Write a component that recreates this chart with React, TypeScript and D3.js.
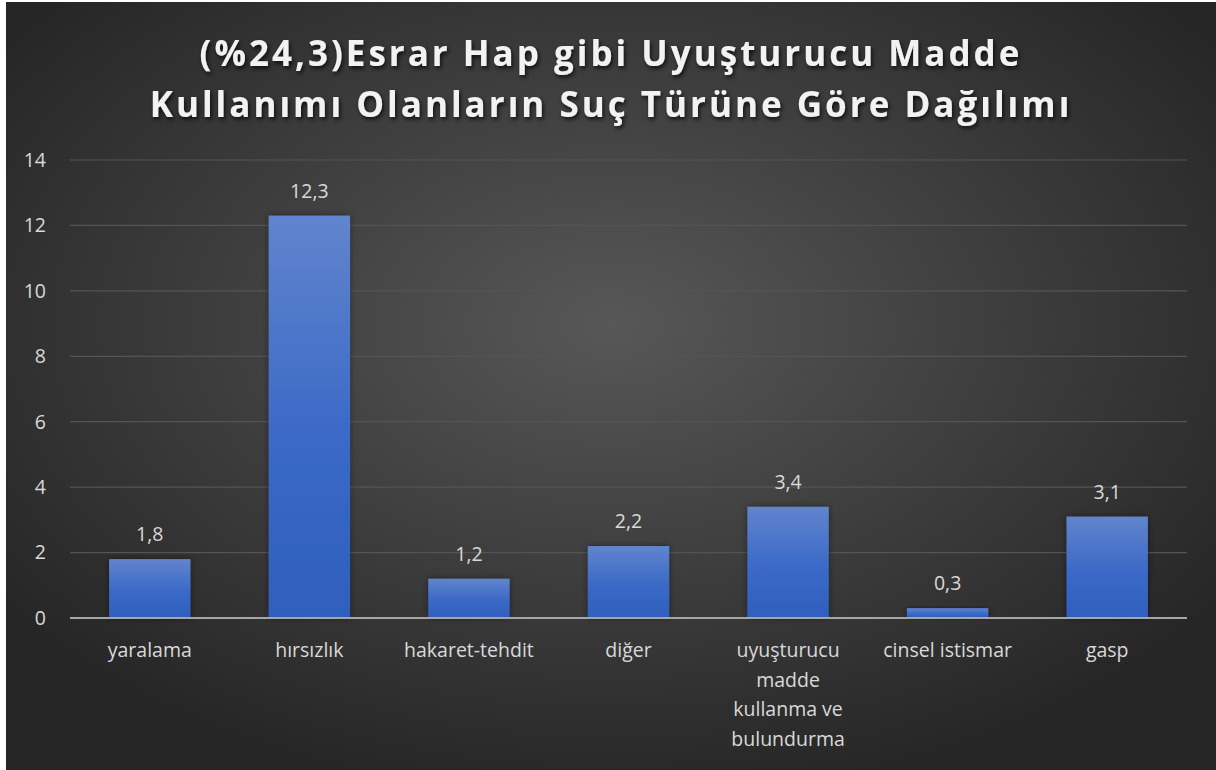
import React from 'react';
import * as d3 from 'd3';

const categories = ['yaralama', 'hırsızlık', 'hakaret-tehdit', 'diğer', 'uyuşturucu madde kullanma ve bulundurma', 'cinsel istismar', 'gasp'];
const values = [1.8, 12.3, 1.2, 2.2, 3.4, 0.3, 3.1];
const yTicks = [0, 2, 4, 6, 8, 10, 12, 14];
const titleLines = ['(%24,3)Esrar Hap gibi Uyuşturucu Madde', 'Kullanımı Olanların Suç Türüne Göre Dağılımı'];

const W = 1216;
const H = 770;
const FONT = "'Open Sans', 'Noto Sans', sans-serif";

// rough word wrap using canvas text measuring
const wrap = (text: string, maxW: number, font: string) => {
  const ctx = document.createElement('canvas').getContext('2d')!;
  ctx.font = font;
  const words = text.split(' ');
  const lines: string[] = [];
  let cur = '';
  words.forEach(w => {
    const test = cur ? cur + ' ' + w : w;
    if (ctx.measureText(test).width > maxW && cur) {
      lines.push(cur);
      cur = w;
    } else cur = test;
  });
  if (cur) lines.push(cur);
  return lines;
};

export default function App() {
  const left = 70, right = 1187, top = 160, bottom = 618;

  const x = d3.scaleBand<string>().domain(categories).range([left, right]).paddingInner(0.49).paddingOuter(0.245);
  const y = d3.scaleLinear().domain([0, 14]).range([bottom, top]);

  React.useEffect(() => {
    document.body.style.margin = '0';
  }, []);

  return (
    <svg width={W} height={H} style={{ display: 'block', fontFamily: FONT }}>
      <defs>
        <radialGradient id="bg" cx="50%" cy="42%" r="62%">
          <stop offset="0%" stopColor="#575757" />
          <stop offset="100%" stopColor="#262626" />
        </radialGradient>
        <linearGradient id="bar" x1="0" y1="0" x2="0" y2="1">
          <stop offset="0%" stopColor="#6184cd" />
          <stop offset="55%" stopColor="#3b69c7" />
          <stop offset="100%" stopColor="#2f5fbd" />
        </linearGradient>
        <filter id="tshadow" x="-10%" y="-30%" width="120%" height="160%">
          <feDropShadow dx="1.5" dy="2.5" stdDeviation="2" floodColor="#000" floodOpacity="0.75" />
        </filter>
        <filter id="bshadow" x="-20%" y="-20%" width="140%" height="140%">
          <feDropShadow dx="0" dy="0" stdDeviation="3" floodColor="#000" floodOpacity="0.45" />
        </filter>
      </defs>
      <rect width={W} height={H} fill="#ffffff" />
      <rect x={6} y={2} width={W - 6} height={H - 2} fill="url(#bg)" />

      {titleLines.map((t, i) => (
        <text key={t} x={611} y={66 + i * 51} textAnchor="middle" fill="#f2f2f2" fontSize={35} fontWeight={700}
          letterSpacing={3} filter="url(#tshadow)">{t}</text>
      ))}

      {yTicks.map(t => (
        <g key={t}>
          {t > 0 && <line x1={left} x2={right} y1={y(t)} y2={y(t)} stroke="#545454" strokeWidth={1.2} />}
          <text x={46} y={y(t)} dy="0.35em" textAnchor="end" fill="#d9d9d9" fontSize={19.5}>{t}</text>
        </g>
      ))}

      {categories.map((c, i) => {
        const bx = x(c)!;
        const cx = bx + x.bandwidth() / 2;
        const lines = wrap(c, 140, `20px ${FONT}`);
        return (
          <g key={c}>
            <rect x={bx} y={y(values[i])} width={x.bandwidth()} height={y(0) - y(values[i])} fill="url(#bar)" filter="url(#bshadow)" />
            <text x={cx} y={y(values[i]) - 18} textAnchor="middle" fill="#d9d9d9" fontSize={19.5}>
              {String(values[i]).replace('.', ',')}
            </text>
            {lines.map((l, j) => (
              <text key={j} x={cx} y={657 + j * 29.5} textAnchor="middle" fill="#d9d9d9" fontSize={19.5}>{l}</text>
            ))}
          </g>
        );
      })}

      <line x1={left} x2={right} y1={y(0)} y2={y(0)} stroke="#a6a6a6" strokeWidth={2} />
    </svg>
  );
}
